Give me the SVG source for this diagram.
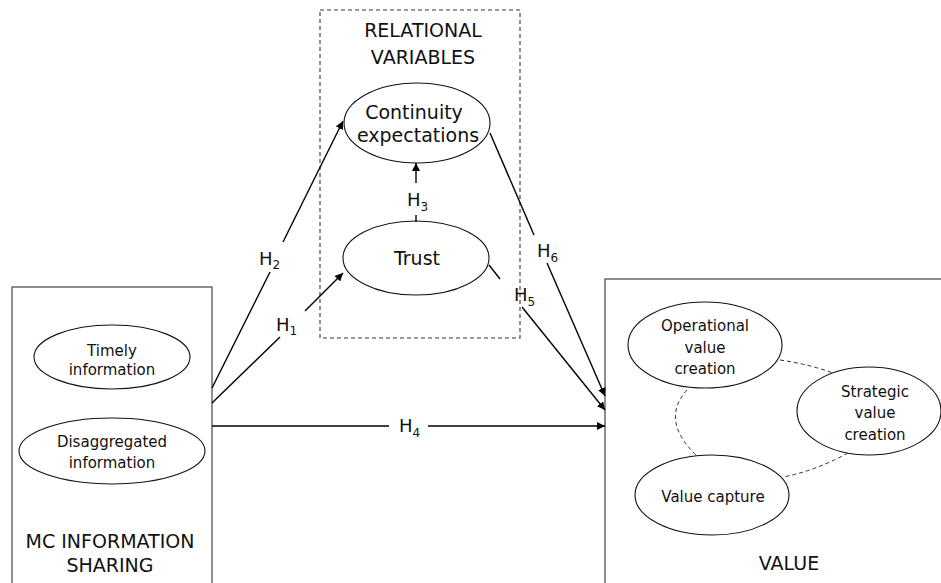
<svg xmlns="http://www.w3.org/2000/svg" width="941" height="583" viewBox="0 0 941 583">
<style>
text{font-family:"DejaVu Sans","Liberation Sans",sans-serif;fill:#111;text-anchor:middle}
.big{font-size:19px}
.sm{font-size:15px}
.h{font-size:18px;text-anchor:start}
.sub{font-size:12px}
.box{fill:#fff;stroke:#444;stroke-width:1.2}
.ell{fill:#fff;stroke:#111;stroke-width:1.1}
.dbox{fill:none;stroke:#333;stroke-width:1.1;stroke-dasharray:4,3}
.edge{fill:none;stroke:#000;stroke-width:1.4}
.dash{fill:none;stroke:#333;stroke-width:1;stroke-dasharray:4,3}
</style>
<defs>
<marker id="arr" viewBox="0 0 10 10" refX="10" refY="5" markerWidth="8" markerHeight="8" markerUnits="userSpaceOnUse" orient="auto">
<path d="M0,0 L10,5 L0,10 z" fill="#000"/>
</marker>
</defs>
<rect width="941" height="583" fill="#fff"/>

<g id="relational">
<rect class="dbox" x="320" y="10" width="200" height="328"/>
<text class="big" x="423" y="37">RELATIONAL</text>
<text class="big" x="423" y="64">VARIABLES</text>
</g>

<g id="continuity">
<ellipse class="ell" cx="417" cy="123" rx="73" ry="40"/>
<text class="big" x="414" y="119">Continuity</text>
<text class="big" x="418" y="142">expectations</text>
</g>

<g id="trust">
<ellipse class="ell" cx="416" cy="258" rx="73" ry="37"/>
<text class="big" x="417" y="265">Trust</text>
</g>

<g id="mc-info">
<rect class="box" x="12" y="287" width="200" height="310"/>
<text class="big" x="110" y="548">MC INFORMATION</text>
<text class="big" x="110" y="572">SHARING</text>
</g>

<g id="timely">
<ellipse class="ell" cx="112" cy="357" rx="78" ry="32"/>
<text class="sm" x="112" y="356">Timely</text>
<text class="sm" x="112" y="375">information</text>
</g>

<g id="disaggregated">
<ellipse class="ell" cx="112" cy="451" rx="93" ry="33"/>
<text class="sm" x="112" y="447">Disaggregated</text>
<text class="sm" x="112" y="468">information</text>
</g>

<g id="value">
<rect class="box" x="605" y="279" width="345" height="320"/>
<text class="big" x="789" y="570">VALUE</text>
</g>

<g id="operational">
<ellipse class="ell" cx="705" cy="345" rx="77" ry="43"/>
<text class="sm" x="705" y="331">Operational</text>
<text class="sm" x="705" y="353">value</text>
<text class="sm" x="705" y="374">creation</text>
</g>

<g id="strategic">
<ellipse class="ell" cx="869" cy="411" rx="72" ry="44"/>
<text class="sm" x="875" y="397">Strategic</text>
<text class="sm" x="875" y="418">value</text>
<text class="sm" x="875" y="440">creation</text>
</g>

<g id="capture">
<ellipse class="ell" cx="712" cy="495" rx="77" ry="40"/>
<text class="sm" x="713" y="502">Value capture</text>
</g>

<g id="connectors">
<path class="dash" d="M780,360 Q808,364 833,373"/>
<path class="dash" d="M687,390 Q660,420 696,455"/>
<path class="dash" d="M848,453 Q815,471 783,477"/>

<!-- H1 -->
<path class="edge" d="M212,403 L280,337"/>
<path class="edge" d="M305,311 L343,273" marker-end="url(#arr)"/>
<text class="h" x="276" y="331">H<tspan class="sub" dy="4">1</tspan></text>
<!-- H2 -->
<path class="edge" d="M212,388 L270,272"/>
<path class="edge" d="M283,242 L343,121" marker-end="url(#arr)"/>
<text class="h" x="259" y="265">H<tspan class="sub" dy="4">2</tspan></text>
<!-- H3 -->
<path class="edge" d="M416,222 L416,215"/>
<path class="edge" d="M416,183 L416,163" marker-end="url(#arr)"/>
<text class="h" x="407" y="206">H<tspan class="sub" dy="5">3</tspan></text>
<!-- H4 -->
<path class="edge" d="M212,426 L389,426"/>
<path class="edge" d="M428,426 L605,426" marker-end="url(#arr)"/>
<text class="h" x="399" y="432">H<tspan class="sub" dy="5">4</tspan></text>
<!-- H5 -->
<path class="edge" d="M489,265 L500,279"/>
<path class="edge" d="M522,307 L605,410" marker-end="url(#arr)"/>
<text class="h" x="514" y="301">H<tspan class="sub" dy="5">5</tspan></text>
<!-- H6 -->
<path class="edge" d="M490,133 L534,235"/>
<path class="edge" d="M547,263 L605,396" marker-end="url(#arr)"/>
<text class="h" x="537" y="257">H<tspan class="sub" dy="5">6</tspan></text>
</g>
</svg>
